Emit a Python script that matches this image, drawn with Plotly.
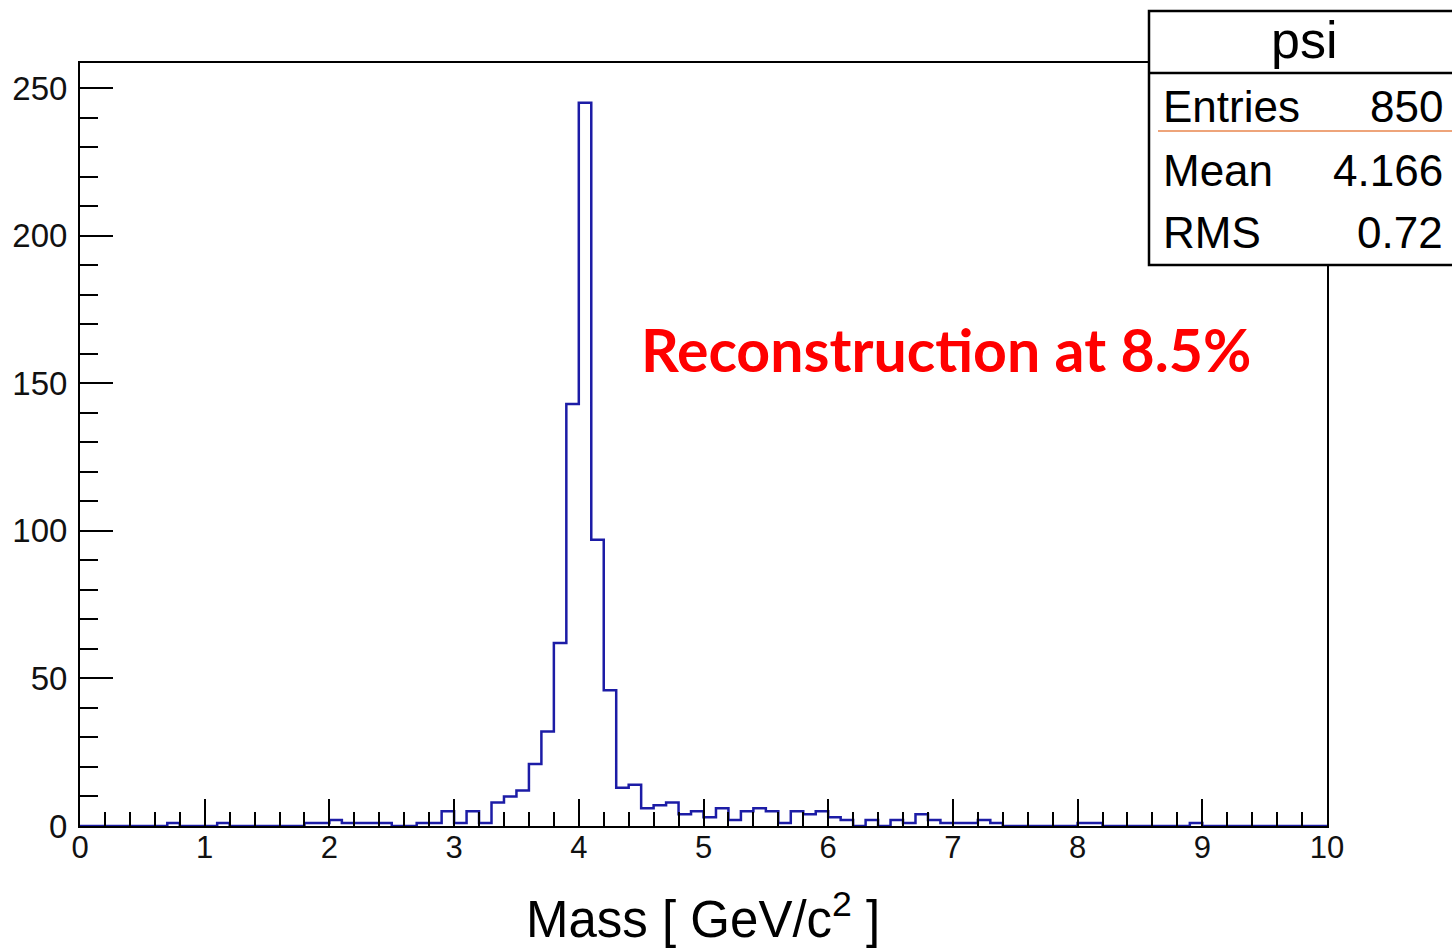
import plotly.graph_objects as go

# Histogram "psi": 100 bins from 0 to 10 GeV/c^2
bin_lo = 0.0
bin_hi = 10.0
n_bins = 100
counts = [0] * n_bins
filled = {
    7: 1, 11: 1,
    18: 1, 19: 1, 20: 2, 21: 1, 22: 1, 23: 1, 24: 1,
    27: 1, 28: 1, 29: 5, 30: 1, 31: 5, 32: 1,
    33: 8, 34: 10, 35: 12, 36: 21, 37: 32, 38: 62, 39: 143, 40: 245,
    41: 97, 42: 46, 43: 13, 44: 14, 45: 6, 46: 7, 47: 8, 48: 4, 49: 5,
    50: 3, 51: 6, 52: 2, 53: 5, 54: 6, 55: 5, 56: 1, 57: 5, 58: 4,
    59: 5, 60: 3, 61: 2, 62: 0, 63: 2, 64: 0, 65: 2, 66: 1, 67: 4,
    68: 2, 69: 1, 70: 1, 71: 1, 72: 2, 73: 1,
    80: 1, 81: 1, 89: 1,
}
for k, v in filled.items():
    counts[k] = v

stat_labels = ["Entries", "Mean", "RMS"]
stat_values = ["850", "4.166", "0.72"]
hist_name = "psi"
note_text = "Reconstruction at 8.5%"
x_title = "Mass [ GeV/c<sup>2</sup> ]"

width = (bin_hi - bin_lo) / n_bins
edges = [bin_lo + i * width for i in range(n_bins + 1)]
step_y = counts + [counts[-1]]

W, H = 1452, 951
L, R, T, B = 80, 1327, 63, 826


def px(xp):
    return (xp - L) / (R - L)


def py(yp):
    return (B - yp) / (B - T)


fig = go.Figure()
fig.add_trace(go.Scatter(
    x=edges, y=step_y, mode="lines", line_shape="hv",
    line=dict(color="#1c1ca6", width=2.5), showlegend=False,
    hoverinfo="skip",
))

xtick_font = dict(family="Liberation Sans, Arial, sans-serif", size=31, color="#111111")
ytick_font = dict(family="Liberation Sans, Arial, sans-serif", size=33, color="#111111")

fig.update_layout(
    width=W, height=H,
    margin=dict(l=L, r=W - R, t=T, b=H - B, pad=0),
    paper_bgcolor="white", plot_bgcolor="white",
    showlegend=False,
    xaxis=dict(
        range=[0, 10], tickmode="linear", tick0=0, dtick=1,
        ticks="inside", ticklen=27, tickwidth=2, tickcolor="black",
        minor=dict(dtick=0.2, ticks="inside", ticklen=14, tickwidth=2, tickcolor="black"),
        showline=True, linecolor="black", linewidth=2, mirror=True,
        showgrid=False, zeroline=False, tickfont=xtick_font,
        ticklabelstandoff=-7,
    ),
    yaxis=dict(
        range=[0, 258.5], tickmode="linear", tick0=0, dtick=50,
        ticks="inside", ticklen=33, tickwidth=2, tickcolor="black",
        minor=dict(dtick=10, ticks="inside", ticklen=18, tickwidth=2, tickcolor="black"),
        showline=True, linecolor="black", linewidth=2, mirror=True,
        showgrid=False, zeroline=False, tickfont=ytick_font,
        ticklabelstandoff=4,
    ),
)

# statistics box
fig.add_shape(type="rect", xref="paper", yref="paper",
              x0=px(1149), x1=px(1470), y0=py(265), y1=py(11),
              line=dict(color="black", width=2.5), fillcolor="white", layer="above")
fig.add_shape(type="line", xref="paper", yref="paper",
              x0=px(1149), x1=px(1470), y0=py(73), y1=py(73),
              line=dict(color="black", width=2.5), layer="above")
fig.add_shape(type="line", xref="paper", yref="paper",
              x0=px(1158), x1=px(1470), y0=py(131), y1=py(131),
              line=dict(color="#e8864e", width=1.5), layer="above")

box_font = dict(family="Liberation Sans, Arial, sans-serif", size=44, color="black")
fig.add_annotation(xref="paper", yref="paper", x=px(1304), y=py(40),
                   text=hist_name, showarrow=False,
                   font=dict(family="Liberation Sans, Arial, sans-serif", size=52, color="black"),
                   xanchor="center", yanchor="middle")
rows_y = [106, 170, 233]
for lab, val, yy in zip(stat_labels, stat_values, rows_y):
    fig.add_annotation(xref="paper", yref="paper", x=px(1161), y=py(yy),
                       text=lab, showarrow=False, font=box_font,
                       xanchor="left", yanchor="middle")
    fig.add_annotation(xref="paper", yref="paper", x=px(1445), y=py(yy),
                       text=val, showarrow=False, font=box_font,
                       xanchor="right", yanchor="middle")

# red note
fig.add_annotation(xref="paper", yref="paper", x=px(946), y=py(349),
                   text=f"<b>{note_text}</b>", showarrow=False,
                   font=dict(family="Lato, Liberation Sans, sans-serif", size=59, color="#ff0000"),
                   xanchor="center", yanchor="middle")

# x axis title
fig.add_annotation(xref="paper", yref="paper", x=px(703), y=py(916),
                   text=x_title, showarrow=False,
                   font=dict(family="Liberation Sans, Arial, sans-serif", size=51, color="black"),
                   xanchor="center", yanchor="middle")

fig.write_html("out.html")
